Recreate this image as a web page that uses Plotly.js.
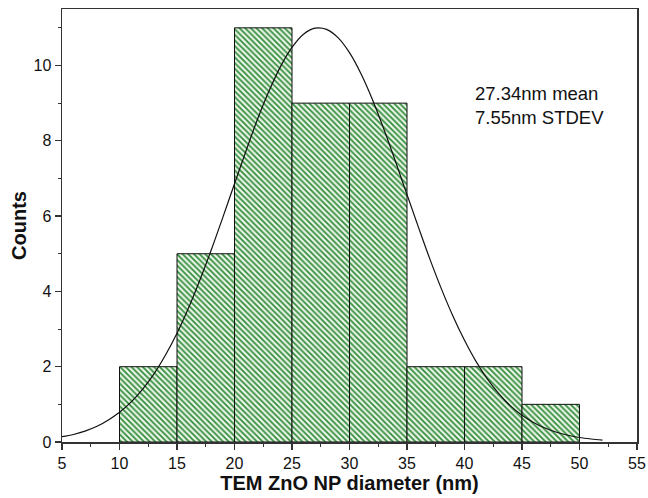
<!DOCTYPE html>
<html><head><meta charset="utf-8">
<script src="https://cdn.plot.ly/plotly-3.0.1.min.js"></script>
<style>html,body{margin:0;padding:0;background:#fff}#chart{width:648px;height:498px}</style>
</head><body><div id="chart"></div>
<script>
// Histogram bins (bin centres, width 5 nm) and counts
const binCenters = [12.5, 17.5, 22.5, 27.5, 32.5, 37.5, 42.5, 47.5];
const counts = [2, 5, 11, 9, 9, 2, 2, 1];
// Fitted normal curve
const fitX = [5,6,7,8,9,10,11,12,13,14,15,16,17,18,19,20,21,22,23,24,25,26,27,28,29,30,31,32,33,34,35,36,37,38,39,40,41,42,43,44,45,46,47,48,49,50,51,52];
const fitY = [0.14,0.20,0.29,0.41,0.58,0.79,1.06,1.40,1.81,2.31,2.89,3.56,4.31,5.12,5.98,6.86,7.73,8.57,9.32,9.97,10.48,10.83,10.99,10.96,10.74,10.34,9.78,9.09,8.30,7.45,6.57,5.70,4.85,4.06,3.34,2.70,2.14,1.67,1.28,0.96,0.71,0.52,0.37,0.26,0.18,0.12,0.08,0.05];
const xTicks = [5,10,15,20,25,30,35,40,45,50,55];
const yTicks = [0,2,4,6,8,10];
const statsText = ["27.34nm mean", "7.55nm STDEV"];

const traces = [
  {
    type: 'bar', x: binCenters, y: counts, width: 5,
    marker: {
      color: '#e8f4e4',
      line: {color: '#111', width: 1},
      pattern: {shape: '\\', fgcolor: '#2f8a3a', bgcolor: '#e8f4e4', size: 4, solidity: 0.42}
    },
    hoverinfo: 'skip'
  },
  {
    type: 'scatter', mode: 'lines', x: fitX, y: fitY,
    line: {color: '#111', width: 1.2, shape: 'spline'},
    hoverinfo: 'skip'
  }
];

const layout = {
  width: 648, height: 498,
  margin: {l: 62, r: 11, t: 9, b: 56},
  paper_bgcolor: '#fff', plot_bgcolor: '#fff',
  showlegend: false,
  font: {family: 'Liberation Sans, Arial, sans-serif', color: '#111', size: 16},
  bargap: 0,
  xaxis: {
    range: [5, 55], tickvals: xTicks, ticktext: xTicks.map(String),
    ticks: 'outside', ticklen: 6, tickwidth: 1.2, tickcolor: '#333',
    minor: {dtick: 2.5, tick0: 5, ticks: 'outside', ticklen: 3, tickcolor: '#333', tickwidth: 1},
    showline: true, linecolor: '#333', linewidth: 1.5, mirror: true,
    showgrid: false, zeroline: false,
    tickfont: {size: 16},
    title: {text: '<b>TEM ZnO NP diameter (nm)</b>', font: {size: 20}, standoff: 3}
  },
  yaxis: {
    range: [0, 11.5], tickvals: yTicks, ticktext: yTicks.map(String),
    ticks: 'outside', ticklen: 6, tickwidth: 1.2, tickcolor: '#333',
    minor: {dtick: 1, tick0: 0, ticks: 'outside', ticklen: 3, tickcolor: '#333', tickwidth: 1},
    showline: true, linecolor: '#333', linewidth: 1.5, mirror: true,
    showgrid: false, zeroline: false,
    tickfont: {size: 16},
    title: {text: '<b>Counts</b>', font: {size: 20}, standoff: 1}
  },
  annotations: [{
    x: 40.7, y: 8.94, xref: 'x', yref: 'y', xanchor: 'left', yanchor: 'middle',
    text: statsText.join('<br>'), showarrow: false, align: 'left',
    font: {size: 18.5, color: '#111'}
  }]
};
Plotly.newPlot('chart', traces, layout, {displayModeBar: false, staticPlot: true});
</script></body></html>
